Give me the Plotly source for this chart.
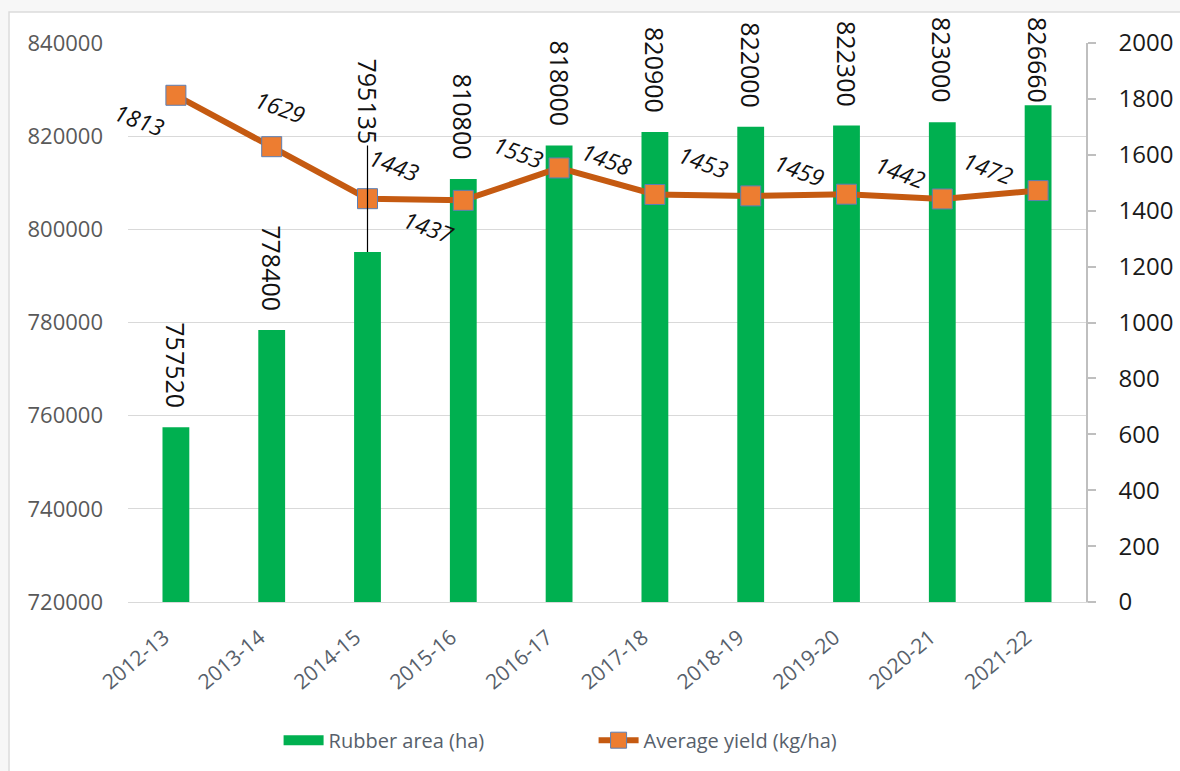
import plotly.graph_objects as go

# Rubber plantation area and average yield by crop year
years = ["2012-13", "2013-14", "2014-15", "2015-16", "2016-17",
         "2017-18", "2018-19", "2019-20", "2020-21", "2021-22"]
rubber_area = [757520, 778400, 795135, 810800, 818000,
               820900, 822000, 822300, 823000, 826660]
avg_yield = [1813, 1629, 1443, 1437, 1553,
             1458, 1453, 1459, 1442, 1472]

FONT = "Open Sans"
GREEN = "#00B050"
LINE_ORANGE = "#C55A11"
MARKER_ORANGE = "#ED7D31"
AXIS_TEXT = "#575f6b"

fig = go.Figure()

fig.add_trace(go.Bar(
    x=years, y=rubber_area, name="Rubber area (ha)",
    marker=dict(color=GREEN, line=dict(width=0)),
    width=0.28, yaxis="y", showlegend=False,
))

# wide swatch for the bar series in the legend
fig.add_trace(go.Scatter(
    x=[None], y=[None], name="Rubber area (ha)", mode="lines",
    line=dict(color=GREEN, width=15), yaxis="y",
))

fig.add_trace(go.Scatter(
    x=years, y=avg_yield, name="Average yield (kg/ha)",
    mode="lines+markers", yaxis="y2",
    line=dict(color=LINE_ORANGE, width=6),
    marker=dict(symbol="square", size=20, color=MARKER_ORANGE,
                line=dict(color="#5b7fb5", width=1)),
))

annotations = []

# Vertical value labels above the bars
for i, (yr, v) in enumerate(zip(years, rubber_area)):
    if yr == "2014-15":
        # label lifted above the line, joined to its bar by a leader line
        annotations.append(dict(
            x=yr, y=v, xref="x", yref="y", text=str(v), textangle=90,
            showarrow=True, arrowhead=0, arrowwidth=1.2, arrowcolor="#000000",
            ax=0, ay=-151, font=dict(family=FONT, size=25, color="#111111"),
        ))
        continue
    shift = 0 if i == len(years) - 1 else 17
    annotations.append(dict(
        x=yr, y=v, xref="x", yref="y", text=str(v), textangle=90,
        showarrow=False, yanchor="bottom", yshift=shift,
        font=dict(family=FONT, size=25, color="#111111"),
    ))

# Slanted italic labels next to the yield markers (pixel offsets)
yield_offsets = [(-36, -25), (9, 40), (27, 34), (-35, -27), (-41, 16),
                 (-48, 35), (-47, 34), (-47, 24), (-42, 27), (-50, 23)]
for yr, v, (dx, dy) in zip(years, avg_yield, yield_offsets):
    annotations.append(dict(
        x=yr, y=v, xref="x", yref="y2", text=f"<i>{v}</i>", textangle=20,
        showarrow=False, xshift=dx, yshift=dy,
        font=dict(family=FONT, size=23, color="#111111"),
    ))

# Chart frame
shapes = [
    dict(type="rect", xref="paper", yref="paper",
         x0=-0.1242, x1=1.2, y0=-0.40, y1=1.0554,
         line=dict(color="#dcdcdc", width=1.5), fillcolor="#ffffff",
         layer="below"),
]

fig.update_layout(
    width=1180, height=771,
    margin=dict(l=128, r=94, t=43, b=168),
    paper_bgcolor="#f7f7f7",
    plot_bgcolor="rgba(0,0,0,0)",
    font=dict(family=FONT, color=AXIS_TEXT),
    showlegend=True,
    legend=dict(orientation="h", x=0.486, xanchor="center",
                y=-0.245, yanchor="middle", itemwidth=40,
                entrywidth=260, entrywidthmode="pixels",
                font=dict(family=FONT, size=20, color=AXIS_TEXT),
                bgcolor="rgba(0,0,0,0)"),
    xaxis=dict(
        type="category", range=[-0.5, 9.5], tickangle=-40,
        tickfont=dict(family=FONT, size=21, color=AXIS_TEXT),
        showline=True, linecolor="#d9d9d9", linewidth=1,
        ticks="", showgrid=False, automargin=False,
        ticklabelstandoff=14, ticklabelshift=-12,
    ),
    yaxis=dict(
        range=[720000, 840000], dtick=20000, tickformat="d",
        showgrid=True, gridcolor="#d9d9d9", gridwidth=1,
        showline=False, ticks="", zeroline=False, automargin=False,
        tickfont=dict(family=FONT, size=22, color="#595959"),
        ticklabelstandoff=24,
    ),
    yaxis2=dict(
        range=[0, 2000], dtick=200, overlaying="y", side="right",
        showgrid=False, zeroline=False, automargin=False,
        showline=True, linecolor="#bfbfbf", linewidth=1.5,
        ticks="outside", ticklen=8, tickcolor="#bfbfbf", tickwidth=1.5,
        tickfont=dict(family=FONT, size=24, color="#1a1a1a"),
        ticklabelstandoff=18,
    ),
    annotations=annotations,
    shapes=shapes,
)

fig.write_html("out.html")
